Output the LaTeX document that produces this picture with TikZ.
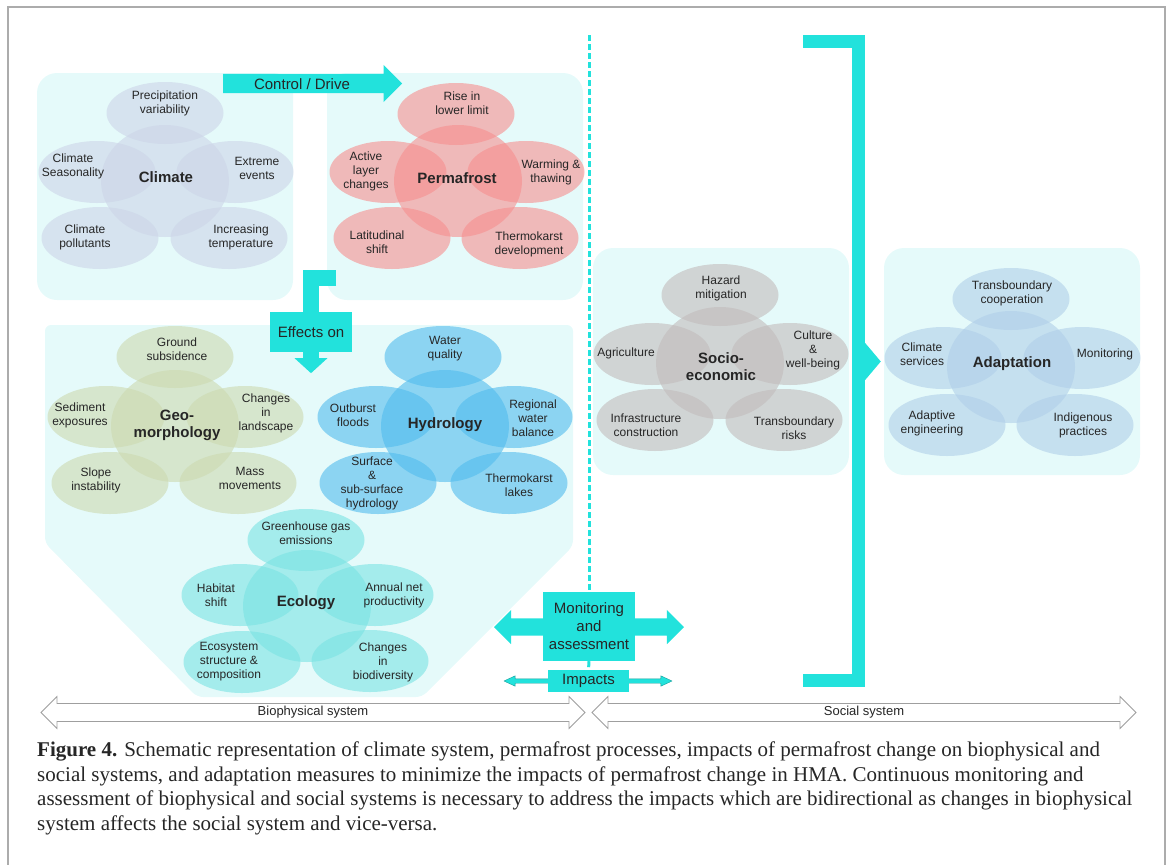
\documentclass[tikz,border=0pt]{standalone}
\usepackage{fontspec}
\setmainfont{Liberation Serif}
\newfontfamily\diafont{Liberation Sans}
\usetikzlibrary{arrows.meta,positioning}
\usetikzlibrary{shapes.geometric,shapes.arrows}

\definecolor{turq}{RGB}{34,226,220}
\definecolor{panelcol}{RGB}{229,250,250}
\definecolor{climc}{RGB}{204,213,232}
\definecolor{permc}{RGB}{247,143,143}
\definecolor{geoc}{RGB}{204,217,175}
\definecolor{hydc}{RGB}{81,188,238}
\definecolor{ecoc}{RGB}{122,227,227}
\definecolor{socc}{RGB}{194,187,187}
\definecolor{adapc}{RGB}{176,207,233}

\begin{document}
\begin{tikzpicture}[
    x=1pt, y=-1pt,
    every node/.style={
        font=\diafont\fontsize{12}{14}\selectfont,
        text=black!85,
        align=center,
        inner sep=0pt
    },
    panel/.style={
        rectangle,
        rounded corners=20pt,
        fill=panelcol,
        minimum width=256pt,
        minimum height=227pt
    },
    bub/.style={
        ellipse,
        minimum width=117pt,
        minimum height=62pt,
        fill opacity=0.6
    },
    core/.style={
        ellipse,
        minimum width=128pt,
        minimum height=112pt,
        fill opacity=0.6
    },
    hub/.style={
        font=\diafont\bfseries\fontsize{15}{17}\selectfont
    },
    big/.style={
        font=\diafont\fontsize{15}{18}\selectfont
    },
    flow/.style={
        turq,
        line width=16pt
    },
    divider/.style={
        turq,
        line width=3pt,
        dash pattern=on 6pt off 3pt
    },
    sysarrow/.style={
        double arrow,
        draw=gray!75,
        fill=white,
        line width=0.8pt,
        inner ysep=2.5pt,
        double arrow head extend=7pt,
        minimum height=544pt,
        font=\diafont\fontsize{13}{15}\selectfont
    }
]
\useasboundingbox (0,0) rectangle (1168,865);

% Frame
\draw[gray!65, line width=1.2pt] (8,865) -- (8,7) -- (1165,7) -- (1165,865);

% Panels
\node[panel] (climpanel) at (165,186.5) {};
\node[panel] (permpanel) at (455,186.5) {};
\node[panel] (socpanel) at (721,361.5) {};
\node[panel] (adappanel) at (1012,361.5) {};
\fill[panelcol, rounded corners=6pt] (45,325) -- (573,325) -- (573,546) -- (422,697)
    -- (197,697) -- (45,543) -- cycle;

% Climate
\node[bub, fill=climc] (cl1) at (165,113) {};
\node[bub, fill=climc] (cl2) at (97,172) {};
\node[bub, fill=climc] (cl3) at (235,172) {};
\node[bub, fill=climc] (cl4) at (100,238) {};
\node[bub, fill=climc] (cl5) at (229,238) {};
\node[core, fill=climc] (cl0) at (165,181) {};
\node (clt1) at (165,103) {Precipitation\\variability};
\node (clt2) at (73,166) {Climate\\Seasonality};
\node (clt3) at (257,168) {Extreme\\events};
\node (clt4) at (85,237) {Climate\\pollutants};
\node (clt5) at (241,237) {Increasing\\temperature};
\node[hub] (clt0) at (166,177) {Climate};

% Permafrost
\node[bub, fill=permc] (pf1) at (456,114) {};
\node[bub, fill=permc] (pf2) at (388,172) {};
\node[bub, fill=permc] (pf3) at (526,172) {};
\node[bub, fill=permc] (pf4) at (392,238) {};
\node[bub, fill=permc] (pf5) at (520,238) {};
\node[core, fill=permc] (pf0) at (458,181) {};
\node (pft1) at (462,103) {Rise in\\lower limit};
\node (pft2) at (366,171) {Active\\layer\\changes};
\node (pft3) at (551,172) {Warming \&\\thawing};
\node (pft4) at (377,242) {Latitudinal\\shift};
\node (pft5) at (529,244) {Thermokarst\\development};
\node[hub] (pft0) at (457,178) {Permafrost};

% Geomorphology
\node[bub, fill=geoc] (gm1) at (175,357) {};
\node[bub, fill=geoc] (gm2) at (106,417) {};
\node[bub, fill=geoc] (gm3) at (245,417) {};
\node[bub, fill=geoc] (gm4) at (110,483) {};
\node[bub, fill=geoc] (gm5) at (238,483) {};
\node[core, fill=geoc] (gm0) at (175,426) {};
\node (gmt1) at (177,349) {Ground\\subsidence};
\node (gmt2) at (80,415) {Sediment\\exposures};
\node (gmt3) at (266,413) {Changes\\in\\landscape};
\node (gmt4) at (96,480) {Slope\\instability};
\node (gmt5) at (250,478) {Mass\\movements};
\node[hub] (gmt0) at (177,425) {Geo-\\morphology};

% Hydrology
\node[bub, fill=hydc] (hy1) at (443,357) {};
\node[bub, fill=hydc] (hy2) at (376,417) {};
\node[bub, fill=hydc] (hy3) at (514,417) {};
\node[bub, fill=hydc] (hy4) at (378,483) {};
\node[bub, fill=hydc] (hy5) at (509,483) {};
\node[core, fill=hydc] (hy0) at (445,426) {};
\node (hyt1) at (445,349) {Water\\quality};
\node (hyt2) at (353,415) {Outburst\\floods};
\node (hyt3) at (533,418) {Regional\\water\\balance};
\node (hyt4) at (372,483) {Surface\\\&\\sub-surface\\hydrology};
\node (hyt5) at (519,485) {Thermokarst\\lakes};
\node[hub] (hyt0) at (445,425) {Hydrology};

% Ecology
\node[bub, fill=ecoc] (ec1) at (306,540) {};
\node[bub, fill=ecoc] (ec2) at (240,595) {};
\node[bub, fill=ecoc] (ec3) at (375,595) {};
\node[bub, fill=ecoc] (ec4) at (242,662) {};
\node[bub, fill=ecoc] (ec5) at (370,661) {};
\node[core, fill=ecoc] (ec0) at (307,606) {};
\node (ect1) at (306,533) {Greenhouse gas\\emissions};
\node (ect2) at (216,595) {Habitat\\shift};
\node (ect3) at (394,595) {Annual net\\productivity};
\node (ect4) at (229,662) {Ecosystem\\structure \&\\composition};
\node (ect5) at (383,662) {Changes\\in\\biodiversity};
\node[hub] (ect0) at (306,603) {Ecology};

% Socio-economic
\node[bub, fill=socc] (se1) at (720,295) {};
\node[bub, fill=socc] (se2) at (652,354) {};
\node[bub, fill=socc] (se3) at (790,354) {};
\node[bub, fill=socc] (se4) at (655,420) {};
\node[bub, fill=socc] (se5) at (784,420) {};
\node[core, fill=socc] (se0) at (720,363) {};
\node (set1) at (721,288) {Hazard\\mitigation};
\node (set2) at (626,353) {Agriculture};
\node (set3) at (813,350) {Culture\\\&\\well-being};
\node (set4) at (646,425) {Infrastructure\\construction};
\node (set5) at (794,428) {Transboundary\\risks};
\node[hub] (set0) at (721,367) {Socio-\\economic};

% Adaptation
\node[bub, fill=adapc] (ad1) at (1011,299) {};
\node[bub, fill=adapc] (ad2) at (943,358) {};
\node[bub, fill=adapc] (ad3) at (1082,358) {};
\node[bub, fill=adapc] (ad4) at (947,425) {};
\node[bub, fill=adapc] (ad5) at (1075,425) {};
\node[core, fill=adapc] (ad0) at (1011,367) {};
\node (adt1) at (1012,293) {Transboundary\\cooperation};
\node (adt2) at (922,354) {Climate\\services};
\node (adt3) at (1105,354) {Monitoring};
\node (adt4) at (932,423) {Adaptive\\engineering};
\node (adt5) at (1083,425) {Indigenous\\practices};
\node[hub] (adt0) at (1012,364) {Adaptation};

% Control / Drive
\node[single arrow, fill=turq, anchor=tail, minimum height=179pt,
    inner ysep=9.5pt, single arrow head extend=9pt] (ctrl) at (223,83.5) {};
\node[big] (ctrltxt) at (302,84) {Control / Drive};

% Effects on
\coordinate (pfout) at (336,278);
\node[big, fill=turq, minimum width=82pt, minimum height=40pt] (effects) at (311,332) {Effects on};
\draw[flow] (pfout) -| (effects.north);
\draw[flow, -{Triangle[length=15pt,width=32pt]}] (effects.south) -- ++(0,21);

% Monitoring and impacts
\node[double arrow, fill=turq, minimum height=190pt, inner ysep=8.5pt,
    double arrow head extend=8.5pt] (monarrow) at (589,627) {};
\node[big, fill=turq, minimum width=92pt, minimum height=69pt] (monitor) at (589,626.5)
    {Monitoring\\and\\assessment};
\node[double arrow, fill=turq, draw=turq!70!black, line width=0.4pt, minimum height=168pt,
    inner ysep=2pt, double arrow head extend=3pt, double arrow tip angle=50] (imparrow) at (588,681) {};
\node[big, fill=turq, minimum width=81pt, minimum height=22pt] (impacts) at (588.5,681) {Impacts};
\coordinate (dtop) at (589,35);
\draw[divider] (dtop) -- (monitor.north);
\draw[divider] (monitor.south) -- (impacts.north);

% Bracket to adaptation
\coordinate (brtop) at (803,41);
\coordinate (brbot) at (803,680.5);
\draw[turq, line width=13pt] (brtop) -- (858.5,41) -- (858.5,680.5) -- (brbot);
\draw[turq, line width=13pt, -{Triangle[length=16pt,width=37pt]}] (858.5,361.5) -- ([xshift=-3pt]adappanel.west);

% Systems
\node[sysarrow] (bio) at (313,712.5) {Biophysical system};
\node[sysarrow] (soc) at (864,712.5) {Social system};

% Caption
\node[anchor=north west, align=left, font=\rmfamily\fontsize{21}{24.5}\selectfont] (caption) at (37,742)
{\textbf{Figure 4.} Schematic representation of climate system, permafrost processes, impacts of permafrost change on biophysical and\\
social systems, and adaptation measures to minimize the impacts of permafrost change in HMA. Continuous monitoring and\\
assessment of biophysical and social systems is necessary to address the impacts which are bidirectional as changes in biophysical\\
system affects the social system and vice-versa.};

\end{tikzpicture}
\end{document}
